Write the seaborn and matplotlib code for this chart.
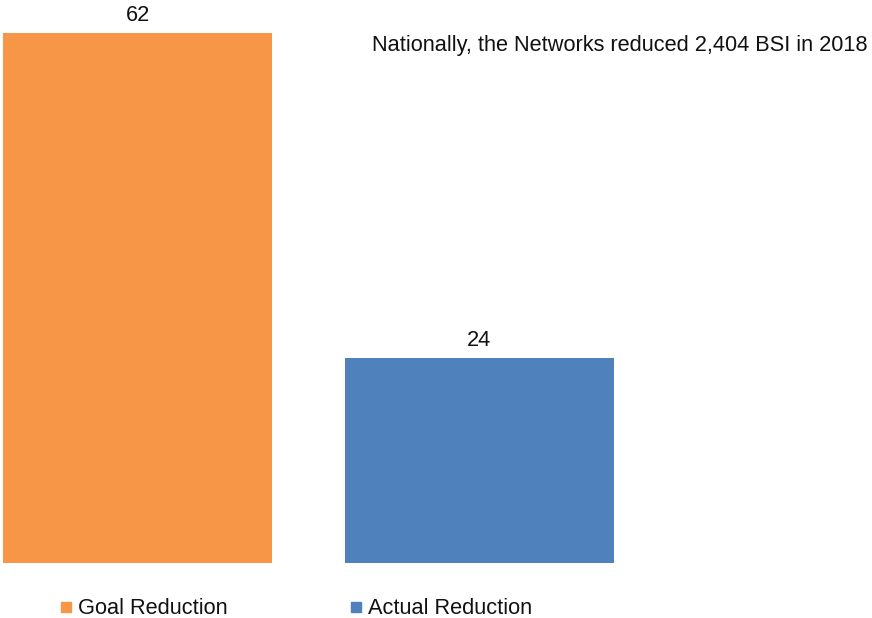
import matplotlib
matplotlib.use("Agg")
import matplotlib.pyplot as plt
from matplotlib.lines import Line2D
import seaborn as sns
import pandas as pd

categories = ["Goal Reduction", "Actual Reduction"]
values = [62, 24]
colors = ["#F79646", "#4F81BD"]
note = "Nationally, the Networks reduced 2,404 BSI in 2018"

sns.set_theme(style="white")
plt.rcParams["font.family"] = ["Liberation Sans", "DejaVu Sans"]

df = pd.DataFrame({"category": categories, "value": values})

fig = plt.figure(figsize=(8.72, 6.18), dpi=100)
ax = fig.add_axes([0, 55 / 618, 1, 563 / 618])

sns.barplot(data=df, x="category", y="value", hue="category",
            palette=colors, order=categories, hue_order=categories,
            width=0.788, linewidth=0, saturation=1, legend=False, ax=ax)

for container in ax.containers:
    ax.bar_label(container, fmt="%d", padding=5, fontsize=15.7, color="#111111")

ax.set_xlim(-0.403, 2.150)
ax.set_ylim(0, 65.86)
ax.set_xlabel("")
ax.set_ylabel("")
ax.set_xticks([])
ax.set_yticks([])
for s in ax.spines.values():
    s.set_visible(False)

fig.text(372 / 872, 1 - 46 / 618, note, ha="left", va="center",
         fontsize=15.7, color="#111111")

handles = [Line2D([0], [0], marker="s", linestyle="none", markersize=7.9,
                  markerfacecolor=c, markeredgecolor=c) for c in colors]
fig.legend(handles, categories, loc="center left",
           bbox_to_anchor=(61 / 872, 1 - 609 / 618), ncol=2, frameon=False,
           fontsize=15.7, handlelength=0.5, handletextpad=0.3,
           columnspacing=5.6, borderpad=0, borderaxespad=0,
           labelcolor="#111111")

fig.savefig("out.png", dpi=100)
